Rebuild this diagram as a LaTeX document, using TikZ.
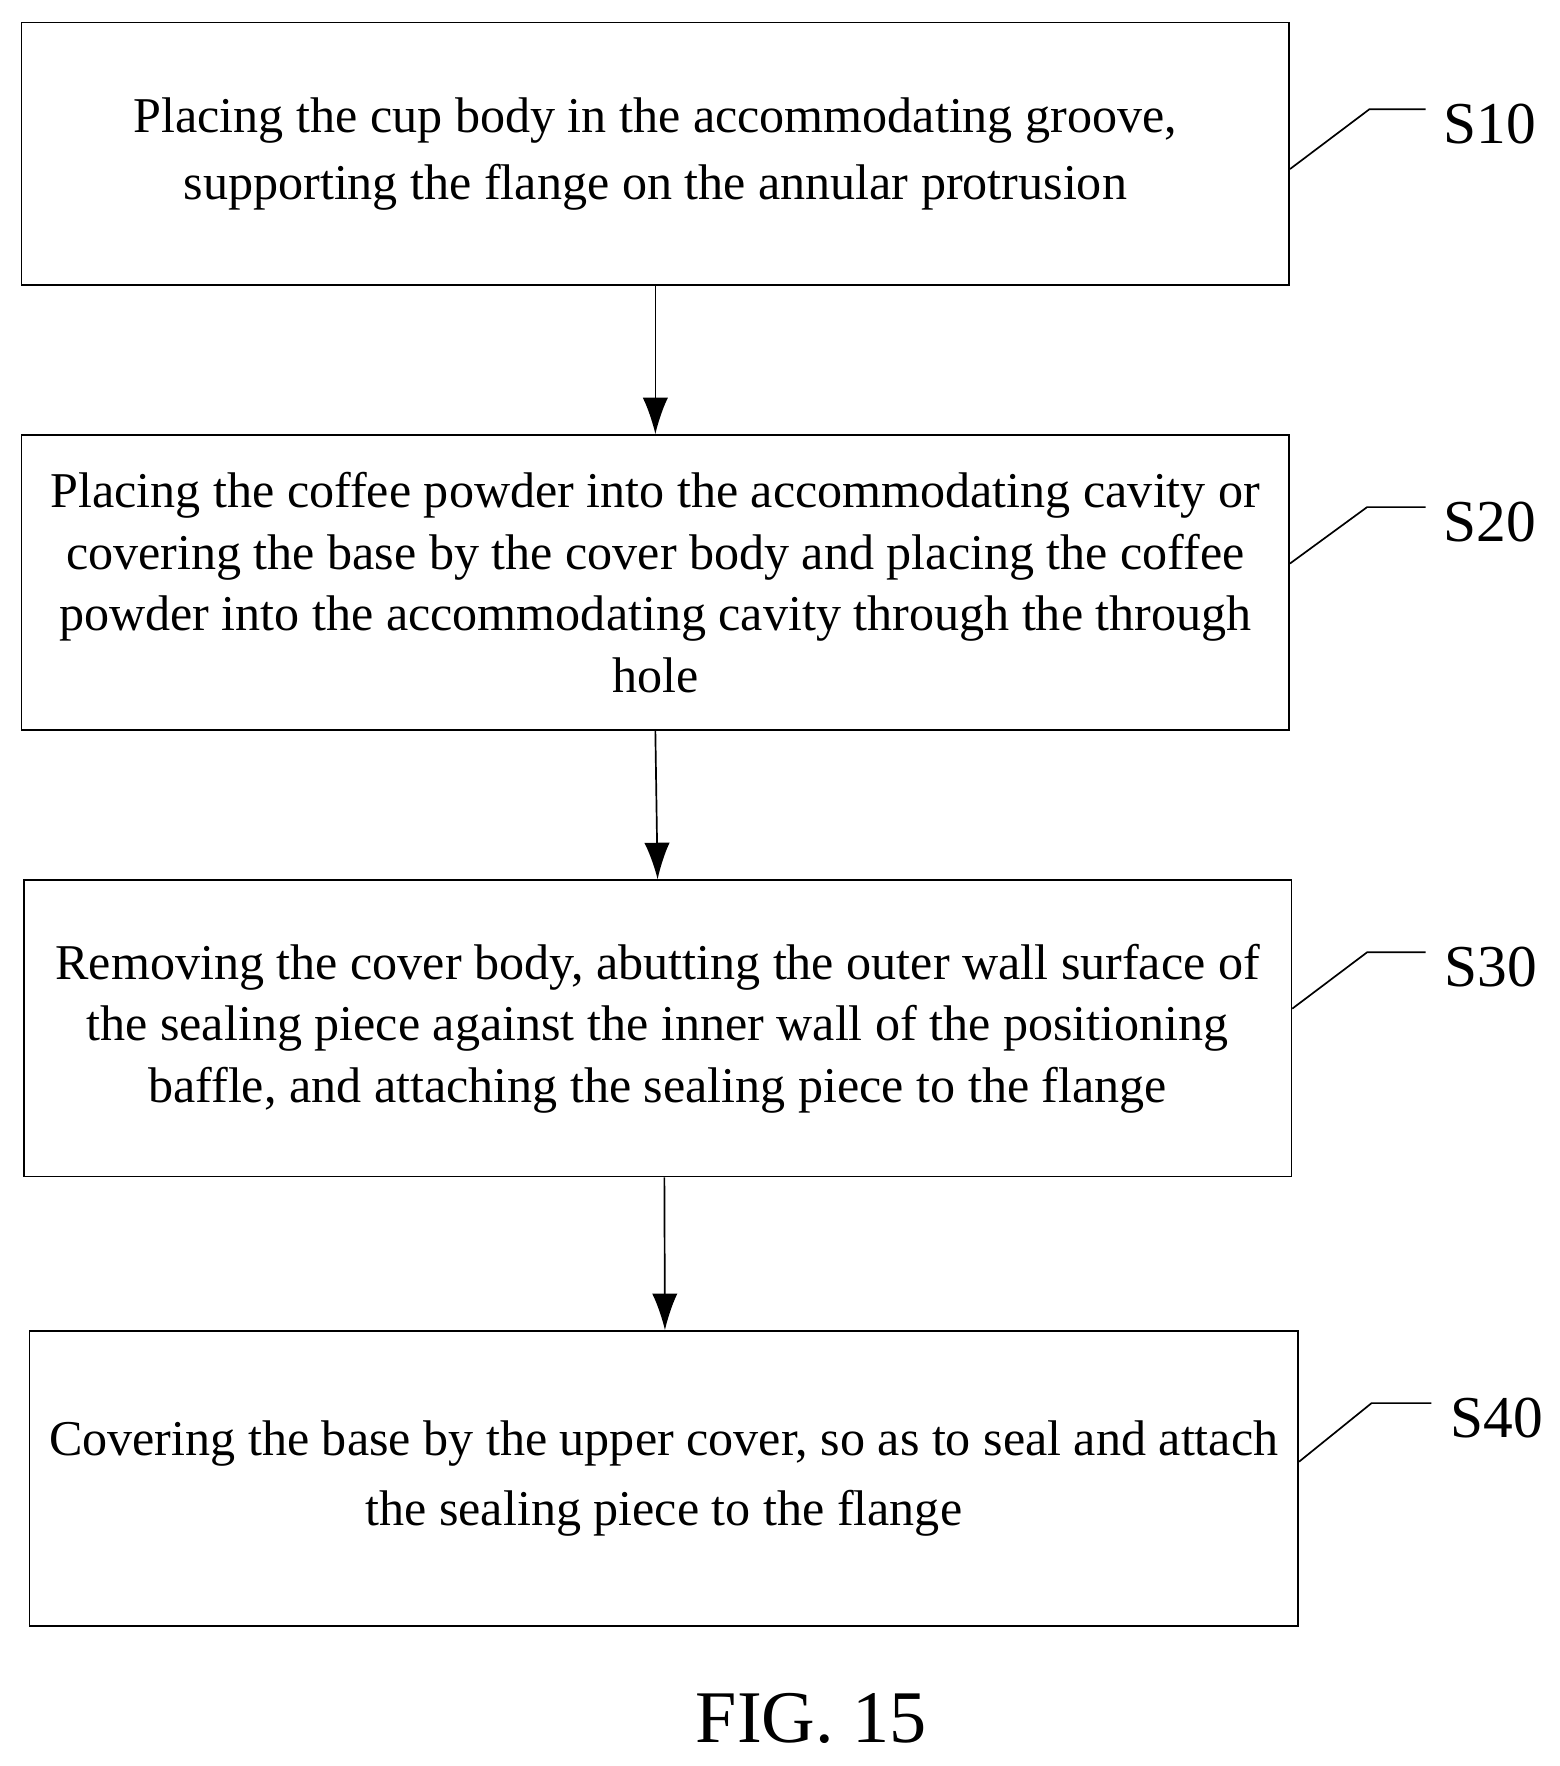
\documentclass[tikz,border=0pt]{standalone}
\usepackage{fontspec}
\setmainfont{Liberation Serif}
\usetikzlibrary{arrows.meta}
\begin{document}
\begin{tikzpicture}[x=0.02cm,y=-0.02cm]

	%STYLES
	\tikzset{every node/.style={font=\fontsize{25.3}{31}\selectfont}}
	\tikzset{stepbox/.style={draw, line width=0.3mm, align=center, minimum width=22.5cm, inner sep=0pt}}
	\tikzset{flecha/.style={-{Latex[length=0.65cm,width=0.45cm]}, line width=0.3mm}}
	\tikzset{linea/.style={line width=0.3mm}}
	\tikzset{etiqueta/.style={anchor=center, font=\fontsize{30}{36}\selectfont}}

	\useasboundingbox (0,0) rectangle (1384,1567);

	%BLOQUES
	\node[stepbox, minimum height=4.66cm, font=\fontsize{25.3}{34}\selectfont] (s10) at (581.5,136.5) {Placing the cup body in the accommodating groove,\\supporting the flange on the annular protrusion};
	\node[stepbox, minimum height=5.24cm] (s20) at (581.5,517) {Placing the coffee powder into the accommodating cavity or\\covering the base by the cover body and placing the coffee\\powder into the accommodating cavity through the through\\hole};
	\node[stepbox, minimum height=5.26cm] (s30) at (583.5,912.5) {Removing the cover body, abutting the outer wall surface of\\the sealing piece against the inner wall of the positioning\\baffle, and attaching the sealing piece to the flange};
	\node[stepbox, minimum height=5.24cm, minimum width=22.52cm, font=\fontsize{25.3}{35}\selectfont] (s40) at (589,1312) {Covering the base by the upper cover, so as to seal and attach\\the sealing piece to the flange};

	%FLECHAS
	\draw[flecha] (s10.south) -- (s20.north);
	\draw[flecha] (s20.south) -- (s30.north);
	\draw[flecha] ([xshift=0.12cm]s30.south) -- ([xshift=0.02cm]s40.north);

	%ETIQUETAS
	\node[etiqueta] (l10) at (1322,110) {S10};
	\node[etiqueta] (l20) at (1322,463) {S20};
	\node[etiqueta] (l30) at (1323,858) {S30};
	\node[etiqueta] (l40) at (1328,1258) {S40};
	\coordinate (k10) at (1215,97);  \coordinate (e10) at (1265,97);
	\coordinate (k20) at (1213,450); \coordinate (e20) at (1265,450);
	\coordinate (k30) at (1213,845); \coordinate (e30) at (1265,845);
	\coordinate (k40) at (1217,1245); \coordinate (e40) at (1270,1245);
	\draw[linea] (s10.east |- 0,150) -- (k10) -- (e10);
	\draw[linea] (s20.east |- 0,500) -- (k20) -- (e20);
	\draw[linea] (s30.east |- 0,895) -- (k30) -- (e30);
	\draw[linea] (s40.east |- 0,1297) -- (k40) -- (e40);

	\node[font=\fontsize{37.5}{44}\selectfont] (fig) at (720,1525) {FIG. 15};
\end{tikzpicture}
\end{document}
